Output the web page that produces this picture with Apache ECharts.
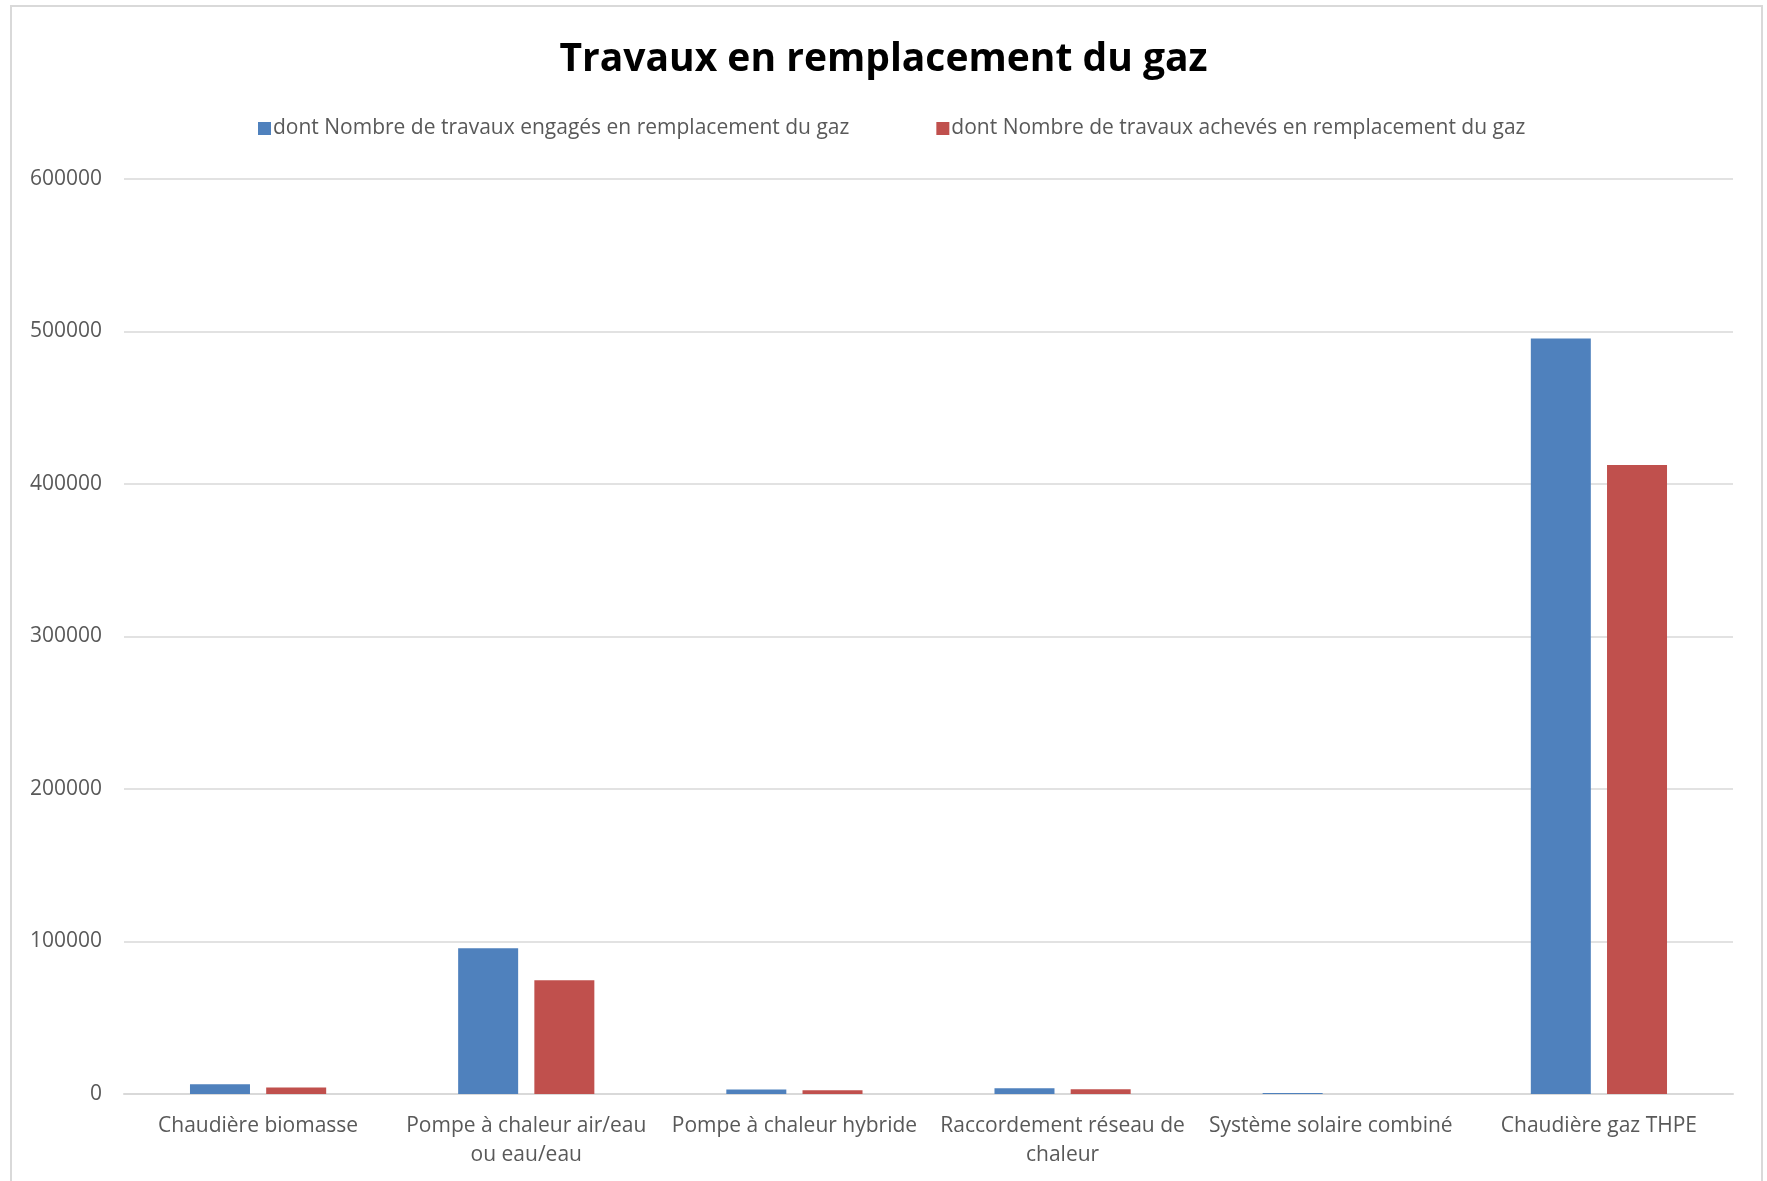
<!DOCTYPE html>
<html>
<head>
<meta charset="utf-8">
<script src="https://cdn.jsdelivr.net/npm/echarts@6/dist/echarts.min.js"></script>
<style>
  html, body { margin: 0; padding: 0; background: #fff; }
  #frame { position: absolute; left: 10px; top: 5px; width: 1753px; height: 1190px; border: 2px solid #d9d9d9; box-sizing: border-box; }
  #chart { position: absolute; left: 0; top: 0; width: 1767px; height: 1181px; }
</style>
</head>
<body>
<div id="frame"></div>
<div id="chart"></div>
<script>
// catégories et valeurs
var categories = ['Chaudière biomasse', 'Pompe à chaleur air/eau ou eau/eau', 'Pompe à chaleur hybride',
                  'Raccordement réseau de chaleur', 'Système solaire combiné', 'Chaudière gaz THPE'];
var engages = [6400, 95600, 2900, 3700, 600, 495400];
var acheves = [4200, 74600, 2400, 3100, 0, 412500];
var seriesNames = ['dont Nombre de travaux engagés en remplacement du gaz',
                   'dont Nombre de travaux achevés en remplacement du gaz'];
// retours à la ligne comme sur l'original
var labelBreaks = {
    'Pompe à chaleur air/eau ou eau/eau': 'Pompe à chaleur air/eau\nou eau/eau',
    'Raccordement réseau de chaleur': 'Raccordement réseau de\nchaleur'
};

var mychart = echarts.init(document.getElementById('chart'));
var option = {
    animation: false,
    textStyle: { fontFamily: 'Open Sans' },
    title: {
        text: 'Travaux en remplacement du gaz',
        left: 'center',
        top: 35,
        textStyle: { fontSize: 39, fontWeight: 'bold', color: '#000', fontFamily: 'Open Sans' }
    },
    legend: {
        top: 113,
        left: 253,
        itemWidth: 13,
        itemHeight: 13,
        itemGap: 87,
        icon: 'rect',
        data: seriesNames,
        textStyle: { color: '#595959', fontSize: 21, padding: [0, 0, 0, -3] }
    },
    grid: { left: 124, right: 34, top: 179, bottom: 87 },
    xAxis: {
        type: 'category',
        data: categories,
        axisLine: { lineStyle: { color: '#d9d9d9', width: 2 } },
        axisTick: { show: false },
        axisLabel: {
            color: '#595959',
            fontSize: 21,
            margin: 18,
            lineHeight: 29,
            interval: 0,
            formatter: function (v) { return labelBreaks[v] || v; }
        }
    },
    yAxis: {
        type: 'value',
        min: 0,
        max: 600000,
        interval: 100000,
        axisLine: { show: false },
        axisTick: { show: false },
        splitLine: { lineStyle: { color: '#d9d9d9', width: 1.5 } },
        axisLabel: { color: '#595959', fontSize: 21, margin: 22, formatter: function (v) { return String(v); } }
    },
    series: [{
        name: seriesNames[0],
        type: 'bar',
        data: engages,
        barWidth: 60,
        barGap: '27%',
        itemStyle: { color: '#4F81BD' }
    }, {
        name: seriesNames[1],
        type: 'bar',
        data: acheves,
        barWidth: 60,
        itemStyle: { color: '#C0504D' }
    }]
};
mychart.setOption(option);
</script>
</body>
</html>
